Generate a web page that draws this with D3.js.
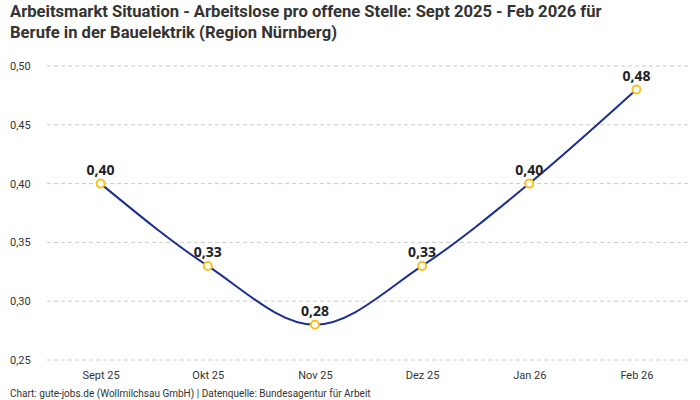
<!DOCTYPE html>
<html>
<head>
<meta charset="utf-8">
<script src="https://d3js.org/d3.v7.min.js"></script>
<style>
body{margin:0;background:#fff}
text{font-family:"Liberation Sans Narrow","Roboto","Noto Sans",sans-serif}
</style>
</head>
<body>
<svg id="chart" width="700" height="400"></svg>
<script>
var months = ["Sept 25","Okt 25","Nov 25","Dez 25","Jan 26","Feb 26"]
var ratio = [0.40,0.33,0.28,0.33,0.40,0.48]
var yTicks = [0.25,0.30,0.35,0.40,0.45,0.50]

var svg = d3.select('#chart')
var fmt = function(v){ return d3.format('.2f')(v).replace('.',',') }

svg.append('text').attr('x',10).attr('y',17)
  .attr('font-size',16.6).attr('font-weight','bold').attr('fill','#333')
  .text('Arbeitsmarkt Situation - Arbeitslose pro offene Stelle: Sept 2025 - Feb 2026 für')
svg.append('text').attr('x',10).attr('y',38)
  .attr('font-size',16.6).attr('font-weight','bold').attr('fill','#333')
  .text('Berufe in der Bauelektrik (Region Nürnberg)')

var x = d3.scalePoint().domain(months).range([47,690]).padding(0.5)
var y = d3.scaleLinear().domain([0.25,0.50]).range([360,66])

// grid + y labels
var grid = svg.append('g')
grid.selectAll('line').data(yTicks).enter().append('line')
  .attr('x1',47).attr('x2',690)
  .attr('y1',d=>y(d)).attr('y2',d=>y(d))
  .attr('stroke','#ccc').attr('stroke-dasharray','4,3')
grid.selectAll('text').data(yTicks).enter().append('text')
  .attr('x',10).attr('y',d=>y(d)+4)
  .attr('font-size',11).attr('fill','#333')
  .text(fmt)

// x labels
var xAxis = svg.append('g').attr('transform','translate(0,365)')
  .call(d3.axisBottom(x).tickSize(0).tickPadding(6))
xAxis.select('.domain').remove()
xAxis.selectAll('text').attr('font-size',11).attr('fill','#333')
  .style('font-family','"Liberation Sans Narrow",Roboto,sans-serif')

// line
var line = d3.line().x((d,i)=>x(months[i])).y(d=>y(d)).curve(d3.curveMonotoneX)
svg.append('path').datum(ratio).attr('d',line)
  .attr('fill','none').attr('stroke','#1a2f91').attr('stroke-width',2)

svg.selectAll('circle.pt').data(ratio).enter().append('circle')
  .attr('class','pt')
  .attr('cx',(d,i)=>x(months[i])).attr('cy',d=>y(d)).attr('r',4)
  .attr('fill','#fff').attr('stroke','#f8c21c').attr('stroke-width',2)

svg.selectAll('text.lbl').data(ratio).enter().append('text')
  .attr('class','lbl')
  .attr('x',(d,i)=>x(months[i])).attr('y',d=>y(d)-9)
  .attr('text-anchor','middle').attr('font-size',14).attr('font-weight','bold')
  .attr('fill','#222').style('font-family','"Open Sans",Roboto,sans-serif')
  .text(fmt)

svg.append('text').attr('x',10).attr('y',397)
  .attr('font-size',10).attr('fill','#333')
  .text('Chart: gute-jobs.de (Wollmilchsau GmbH) | Datenquelle: Bundesagentur für Arbeit')
</script>
</body>
</html>
